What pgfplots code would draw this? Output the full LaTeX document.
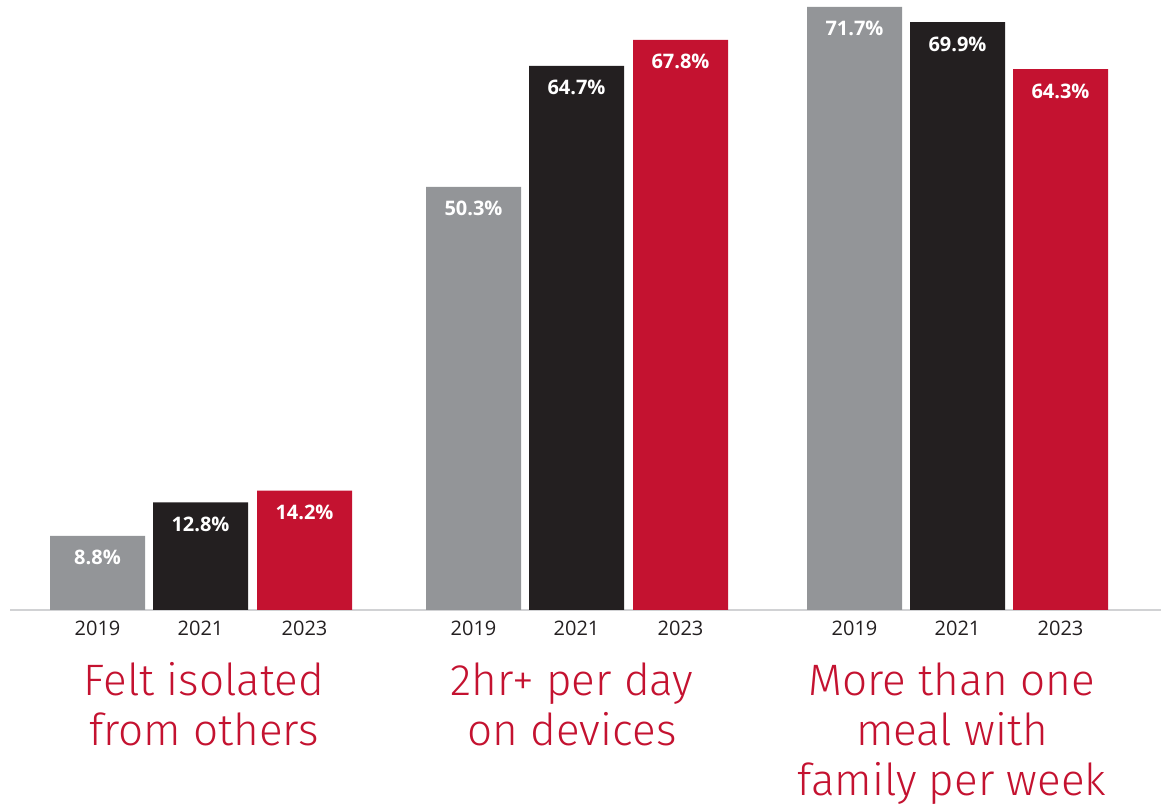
\documentclass[border=0pt]{standalone}
\usepackage{fontspec}
\setmainfont{Open Sans}
\newfontfamily\titlefont{Fira Sans Light}
\usepackage{pgfplots}
\pgfplotsset{compat=1.18}
\definecolor{cgray}{HTML}{939598}
\definecolor{cblack}{HTML}{231F20}
\definecolor{cred}{HTML}{C41230}
\definecolor{cline}{HTML}{D1D2D4}
\begin{document}
\begin{tikzpicture}
\useasboundingbox (0,-98pt) rectangle (580.5pt,305pt);
\begin{axis}[at={(0,0)}, anchor=south west, scale only axis,
  width=580.5pt, height=305pt,
  xmin=0, xmax=1161, ymin=0, ymax=72.53,
  axis line style={draw=none}, ytick=\empty,
  xtick={97.5,200.5,304.5,473.5,576.5,680.5,854.5,957.5,1060.5},
  xticklabels={2019,2021,2023,2019,2021,2023,2019,2021,2023},
  major tick length=0pt,
  xticklabel style={font=\fontsize{10}{12}\selectfont, text=cblack, anchor=base, yshift=-13pt},
  clip=false,
  ybar, bar width=47.5pt, bar shift=0pt,
  nodes near coords={\pgfmathprintnumber[fixed,fixed zerofill,precision=1,assume math mode=true]{\pgfplotspointmeta}\%},
  every node near coord/.append style={font=\bfseries\fontsize{10}{11}\selectfont, text=white, anchor=base, yshift=-14.5pt},
]
\draw[cline, line width=1pt] (axis cs:10,0) -- (axis cs:1161,0);
\addplot[fill=cgray, draw=none] coordinates {(97.5,8.8) (473.5,50.3) (854.5,71.7)};
\addplot[fill=cblack, draw=none] coordinates {(200.5,12.8) (576.5,64.7) (957.5,69.9)};
\addplot[fill=cred, draw=none] coordinates {(304.5,14.2) (680.5,67.8) (1060.5,64.3)};
\begin{scope}[every node/.style={font=\titlefont\fontsize{22}{25}\selectfont, text=cred, align=center, anchor=north, inner sep=0pt, yshift=-26pt}]
\node at (axis cs:204,0) {Felt isolated\\from others};
\node at (axis cs:572,0) {2hr+ per day\\on devices};
\node at (axis cs:952,0) {More than one\\meal with\\family per week};
\end{scope}
\end{axis}
\end{tikzpicture}
\end{document}
